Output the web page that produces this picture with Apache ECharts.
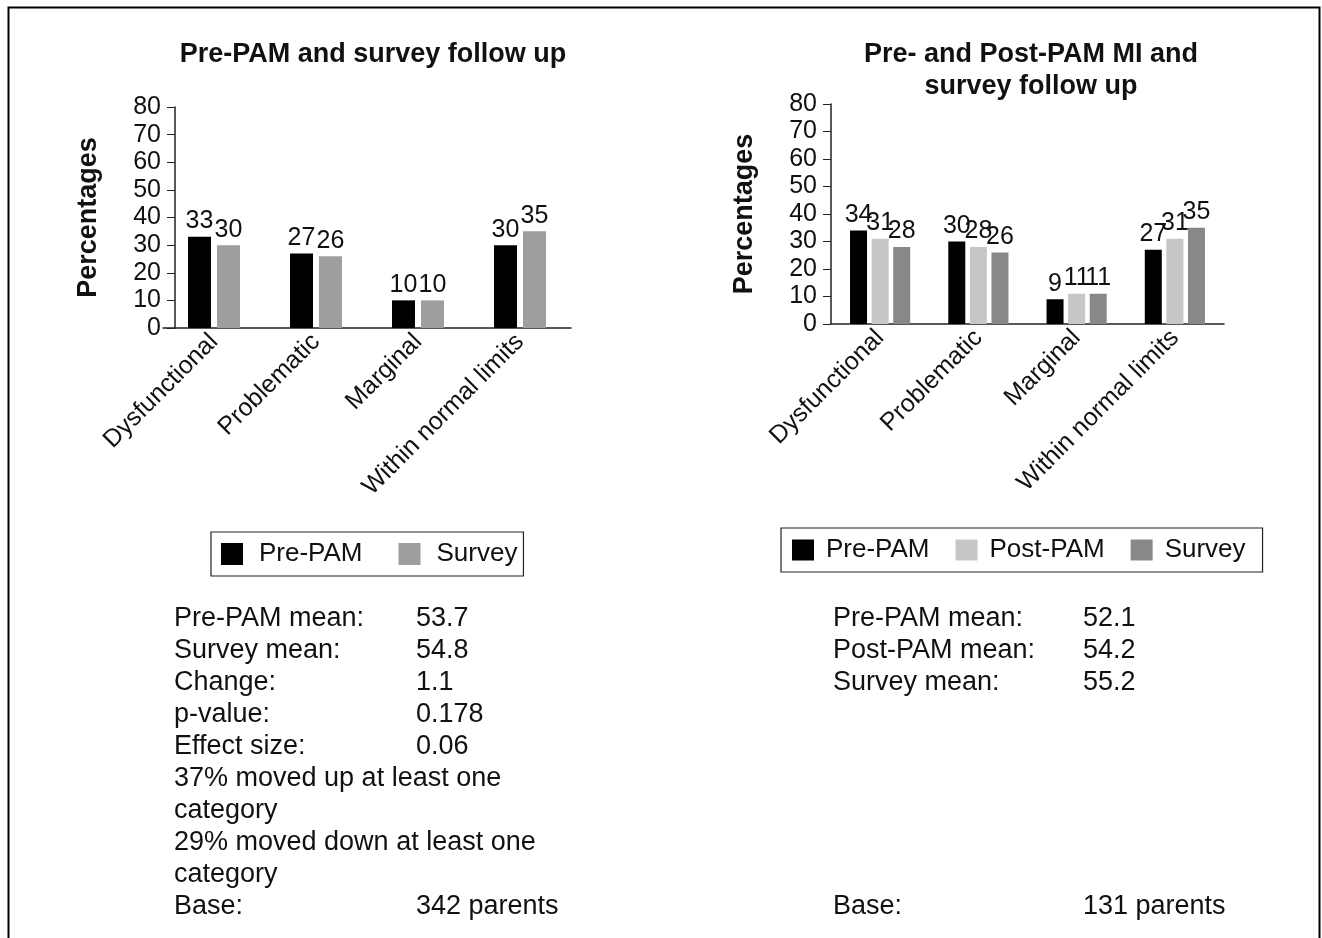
<!DOCTYPE html>
<html>
<head>
<meta charset="utf-8">
<script src="https://cdn.jsdelivr.net/npm/echarts@6/dist/echarts.min.js"></script>
<style>
  html, body { margin: 0; padding: 0; background: #fff; }
  #chart { width: 1322px; height: 938px; }
</style>
</head>
<body>
<div id="chart"></div>
<script>
// categories shared by both panels
var categories = ['Dysfunctional', 'Problematic', 'Marginal', 'Within normal limits'];

// left panel: Pre-PAM and survey follow up
var leftPre = [33, 27, 10, 30];
var leftSurvey = [30, 26, 10, 35];

// right panel: Pre- and Post-PAM MI and survey follow up
var rightPre = [34, 30, 9, 27];
var rightPost = [31, 28, 11, 31];
var rightSurvey = [28, 26, 11, 35];

var yTicks = { min: 0, max: 80, interval: 10 };

// summary text under each chart
var leftStats = [
  ['Pre-PAM mean:', '53.7'],
  ['Survey mean:', '54.8'],
  ['Change:', '1.1'],
  ['p-value:', '0.178'],
  ['Effect size:', '0.06'],
  ['37% moved up at least one', ''],
  ['category', ''],
  ['29% moved down at least one', ''],
  ['category', ''],
  ['Base:', '342 parents']
];
var rightStats = [
  ['Pre-PAM mean:', '52.1'],
  ['Post-PAM mean:', '54.2'],
  ['Survey mean:', '55.2'],
  ['', ''], ['', ''], ['', ''], ['', ''], ['', ''], ['', ''],
  ['Base:', '131 parents']
];

var FONT = '"Liberation Sans", Arial, Helvetica, sans-serif';
var TXT = '#111';

var myChart = echarts.init(document.getElementById('chart'));

function xAxisOf(idx) {
  return {
    type: 'category',
    gridIndex: idx,
    data: categories,
    axisLine: { lineStyle: { color: '#222', width: 1.5 } },
    axisTick: { show: false },
    axisLabel: { rotate: 45, interval: 0, margin: 10, fontSize: 25, color: TXT, fontFamily: FONT }
  };
}

function yAxisOf(idx, offset) {
  return {
    type: 'value',
    gridIndex: idx,
    min: yTicks.min,
    max: yTicks.max,
    interval: yTicks.interval,
    offset: offset,
    name: 'Percentages',
    nameLocation: 'middle',
    nameGap: 73,
    nameTextStyle: { fontSize: 27, fontWeight: 'bold', color: TXT, fontFamily: FONT },
    axisLine: { show: true, lineStyle: { color: '#222', width: 1.5 } },
    axisTick: { show: true, length: 8, lineStyle: { color: '#222' } },
    axisLabel: { margin: 14, fontSize: 25, color: TXT, fontFamily: FONT },
    splitLine: { show: false }
  };
}

function barOf(name, data, color, idx, width, gap) {
  return {
    name: name,
    type: 'bar',
    xAxisIndex: idx,
    yAxisIndex: idx,
    data: data,
    barWidth: width,
    barGap: gap,
    itemStyle: { color: color },
    label: { show: true, position: 'top', distance: 3, fontSize: 25, color: TXT, fontFamily: FONT },
    animation: false
  };
}

function statsText(rows, xl, xv) {
  var els = [];
  rows.forEach(function (r, i) {
    var y = 619 + i * 32;
    if (r[0]) els.push({ type: 'text', style: { text: r[0], x: xl, y: y, font: '27px ' + FONT, fill: TXT, textVerticalAlign: 'middle' } });
    if (r[1]) els.push({ type: 'text', style: { text: r[1], x: xv, y: y, font: '27px ' + FONT, fill: TXT, textVerticalAlign: 'middle' } });
  });
  return els;
}

var titleFont = 'bold 27px ' + FONT;
var graphics = [
  { type: 'rect', shape: { x: 8.5, y: 7.5, width: 1311, height: 1000 }, style: { fill: 'none', stroke: '#000', lineWidth: 2 } },
  { type: 'text', style: { text: 'Pre-PAM and survey follow up', x: 373, y: 55, font: titleFont, fill: TXT, textAlign: 'center', textVerticalAlign: 'middle' } },
  { type: 'text', style: { text: 'Pre- and Post-PAM MI and', x: 1031, y: 55, font: titleFont, fill: TXT, textAlign: 'center', textVerticalAlign: 'middle' } },
  { type: 'text', style: { text: 'survey follow up', x: 1031, y: 87, font: titleFont, fill: TXT, textAlign: 'center', textVerticalAlign: 'middle' } }
].concat(statsText(leftStats, 174, 416)).concat(statsText(rightStats, 833, 1083));

var legendText = { fontSize: 26, color: TXT, fontFamily: FONT };

var option = {
  backgroundColor: '#fff',
  animation: false,
  grid: [
    { left: 163, top: 107, width: 408, height: 221 },
    { left: 831, top: 104, width: 393, height: 220 }
  ],
  xAxis: [xAxisOf(0), xAxisOf(1)],
  yAxis: [yAxisOf(0, -12), yAxisOf(1, 0)],
  legend: [
    {
      left: 211, top: 532,
      padding: [9, 6, 9, 10],
      itemGap: 36, itemWidth: 22, itemHeight: 22,
      icon: 'rect',
      selectedMode: false,
      borderColor: '#222', borderWidth: 1.2,
      textStyle: Object.assign({ padding: [0, 0, 0, 11] }, legendText),
      data: [
        { name: 'Pre-PAM', itemStyle: { color: '#000' } },
        { name: 'Survey', itemStyle: { color: '#9d9e9f' } }
      ]
    },
    {
      left: 781, top: 528,
      padding: [9, 17, 9, 11],
      itemGap: 26, itemWidth: 22, itemHeight: 21,
      icon: 'rect',
      selectedMode: false,
      borderColor: '#222', borderWidth: 1.2,
      textStyle: Object.assign({ padding: [0, 0, 0, 7] }, legendText),
      data: [
        { name: 'Pre-PAM', itemStyle: { color: '#000' } },
        { name: 'Post-PAM', itemStyle: { color: '#c5c6c8' } },
        { name: 'Survey', itemStyle: { color: '#878889' } }
      ]
    }
  ],
  series: [
    barOf('Pre-PAM', leftPre, '#000', 0, 23, '26%'),
    barOf('Survey', leftSurvey, '#9d9e9f', 0, 23, '26%'),
    barOf('Pre-PAM', rightPre, '#000', 1, 17, '27%'),
    barOf('Post-PAM', rightPost, '#c5c6c8', 1, 17, '27%'),
    barOf('Survey', rightSurvey, '#878889', 1, 17, '27%')
  ],
  graphic: graphics
};

myChart.setOption(option);
window.onresize = function () {
  myChart.resize();
};
</script>
</body>
</html>
